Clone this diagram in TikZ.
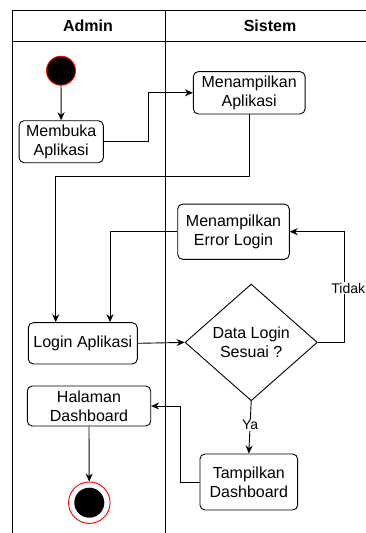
\documentclass[tikz,border=0pt]{standalone}
\usepackage{fontspec}
\setmainfont{Liberation Sans}
\usetikzlibrary{arrows.meta,shapes.geometric}

\tikzset{
    act/.style={draw, rounded corners=5pt, align=center, inner sep=0pt,
        font=\fontsize{16}{19}\selectfont},
    flow/.style={-{Stealth[length=8pt,width=7pt]}, line width=0.9pt},
    lbl/.style={fill=white, inner sep=1pt, font=\fontsize{14}{16}\selectfont},
}

\begin{document}
\begin{tikzpicture}[x=1pt, y=-1pt, line width=0.9pt]
    \useasboundingbox (0,0) rectangle (366,533);

    %lanes
    \draw (12.7,533) |- (366,10);
    \draw (12.7,41.7) -- (366,41.7);
    \draw (165.7,10) -- (165.7,533);
    \foreach \x/\t in {88/Admin,270/Sistem}
    {
        \node[font=\bfseries\fontsize{16}{19}\selectfont] (h\t) at (\x,26) {\t};
    }

    %start and end
    \node[circle, draw=red, fill=black, minimum size=29pt, inner sep=0pt] (start) at (61,70.7) {};
    \node[circle, draw=red, fill=white, minimum size=41.5pt, inner sep=0pt] (end) at (89.3,502.7) {};
    \fill (end) circle (15);

    %activities
    \node[act, minimum width=84.3pt, minimum height=42pt] (buka) at (61.2,141.7) {Membuka\\Aplikasi};
    \node[act, minimum width=111.7pt, minimum height=42.3pt] (tampilApp) at (249.2,92.8) {Menampilkan\\Aplikasi};
    \node[act, minimum width=111.6pt, minimum height=55.3pt] (error) at (233.5,231.7) {Menampilkan\\Error Login};
    \node[act, minimum width=109pt, minimum height=41.3pt] (login) at (82.8,343.3) {Login Aplikasi};
    \node[draw, diamond, aspect=1.13, minimum width=132.3pt, minimum height=116.7pt,
        inner sep=0pt, align=center, font=\fontsize{16}{19}\selectfont] (cek) at (251.2,342.4) {Data Login\\Sesuai ?};
    \node[act, minimum width=123.4pt, minimum height=40pt] (halaman) at (89,406) {Halaman\\Dashboard};
    \node[act, minimum width=97.7pt, minimum height=56pt] (tampilDash) at (248.8,482) {Tampilkan\\Dashboard};

    %bends
    \coordinate (b1) at (148.3,141.7);
    \coordinate (b2) at (55.7,176);
    \coordinate (b3) at (110,231.7);
    \coordinate (b4) at (344.3,342.4);
    \coordinate (b5) at (180,482);

    %flows
    \draw[flow] (start) -- (buka);
    \draw[flow] (buka.east) -- (b1) |- (tampilApp.west);
    \draw[flow] (tampilApp.south) |- (b2) -- (b2 |- login.north);
    \draw[flow] (error.west) -- (b3) -- (b3 |- login.north);
    \draw[flow] (login.east) -- (cek.west);
    \draw[flow] (cek.east) -- (b4) |- node[lbl, pos=0.245, xshift=4pt] {Tidak} (error.east);
    \draw[flow] (cek.south) -- node[lbl, pos=0.45] {Ya} (tampilDash.north);
    \draw[flow] (tampilDash.west) -- (b5) |- (halaman.east);
    \draw[flow] (halaman.south) -- (end);
\end{tikzpicture}
\end{document}
